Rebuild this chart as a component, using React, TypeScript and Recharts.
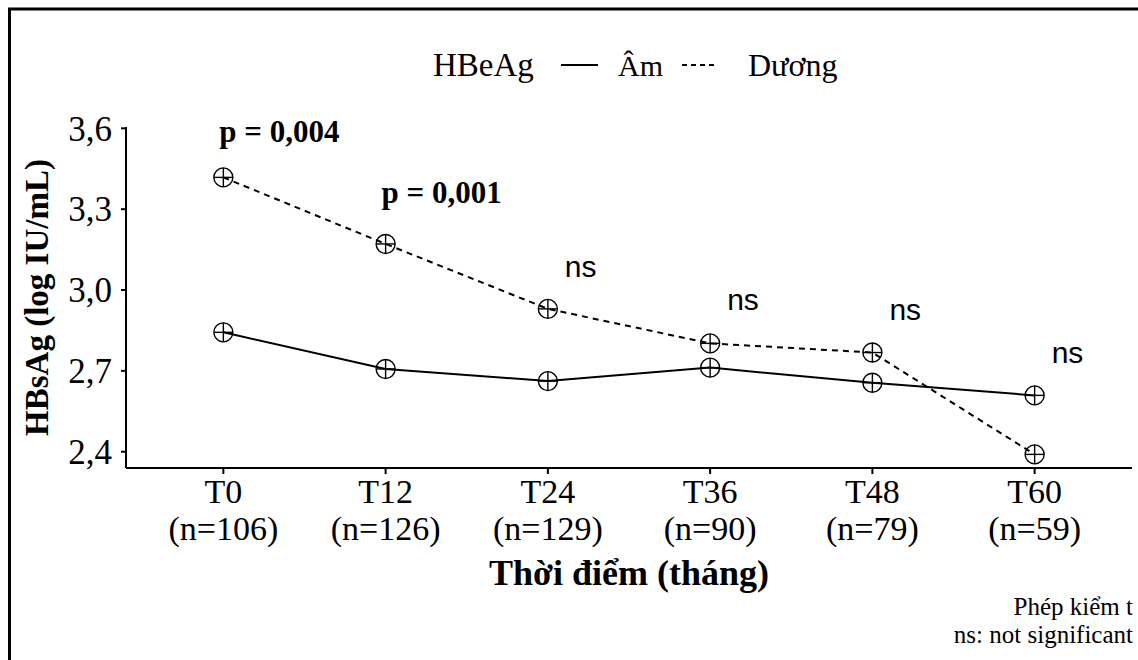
import React from 'react';
import { LineChart, Line, XAxis, YAxis, ReferenceDot } from 'recharts';

// ---- data ----
const timepoints = ['T0', 'T12', 'T24', 'T36', 'T48', 'T60'];
const sampleSizes = [106, 126, 129, 90, 79, 59];
const amValues = [2.843, 2.707, 2.662, 2.712, 2.656, 2.609];
const duongValues = [3.418, 3.171, 2.930, 2.802, 2.768, 2.390];
const yTicks = [2.4, 2.7, 3.0, 3.3, 3.6];
const yTickLabels = ['2,4', '2,7', '3,0', '3,3', '3,6'];
const annotationLabels = ['p = 0,004', 'p = 0,001', 'ns', 'ns', 'ns', 'ns'];
const annotationY = [3.549, 3.323, 3.048, 2.926, 2.889, 2.731];
const legendTitle = 'HBeAg';
const seriesNames = ['Âm', 'Dương'];
const yTitle = 'HBsAg (log IU/mL)';
const xTitle = 'Thời điểm (tháng)';
const footnotes = ['Phép kiểm t', 'ns: not significant'];

const data = timepoints.map((t, i) => ({ idx: i, am: amValues[i], duong: duongValues[i] }));

const SERIF = "'Liberation Serif', 'Times New Roman', Times, serif";
const SANS = "'Liberation Sans', Arial, sans-serif";

const CrossCircle = (props: any) => {
  const { cx, cy, index } = props;
  if (cx == null || cy == null) return null;
  const r = 9.5;
  return (
    <g key={'m' + index}>
      <circle cx={cx} cy={cy} r={r} fill="none" stroke="#000" strokeWidth={1.4} />
      <line x1={cx - r} x2={cx + r} y1={cy} y2={cy} stroke="#000" strokeWidth={1.4} />
      <line x1={cx} x2={cx} y1={cy - r} y2={cy + r} stroke="#000" strokeWidth={1.4} />
    </g>
  );
};

const XTick = (props: any) => {
  const { x, y, payload } = props;
  const i = payload.value as number;
  return (
    <text x={x} y={y} textAnchor="middle" fontFamily={SERIF} fontSize={34} fill="#000">
      <tspan x={x} dy={29}>{timepoints[i]}</tspan>
      <tspan x={x} dy={37}>{`(n=${sampleSizes[i]})`}</tspan>
    </text>
  );
};

const YTick = (props: any) => {
  const { x, y, payload } = props;
  const k = yTicks.indexOf(payload.value);
  return (
    <text x={x - 9} y={y} dy="0.35em" textAnchor="end" fontFamily={SERIF} fontSize={35} fill="#000">
      {k >= 0 ? yTickLabels[k] : payload.value}
    </text>
  );
};

const AnnotationShape = (label: string) => (props: any) => {
  const { cx, cy } = props;
  const isP = label.startsWith('p');
  return (
    <text
      x={cx + (isP ? -4 : 17)}
      y={cy}
      textAnchor="start"
      fontFamily={isP ? SERIF : SANS}
      fontWeight={isP ? 'bold' : 'normal'}
      fontSize={isP ? 31 : 30}
      fill="#000"
    >
      {label}
    </text>
  );
};

export default function App() {
  return (
    <div style={{ position: 'absolute', left: 0, top: 0, width: 1138, height: 660, overflow: 'hidden', background: '#fff' }}>
      <div style={{ position: 'absolute', left: 0, top: 0 }}>
        <LineChart width={1138} height={660} data={data} margin={{ top: 127, right: 6, bottom: 0, left: 0 }}>
          <XAxis
            dataKey="idx"
            type="number"
            domain={[-0.6, 5.6]}
            ticks={[0, 1, 2, 3, 4, 5]}
            interval={0}
            height={192}
            tickSize={6}
            tickMargin={0}
            axisLine={{ stroke: '#000', strokeWidth: 2 }}
            tickLine={{ stroke: '#000', strokeWidth: 2 }}
            tick={<XTick />}
          />
          <YAxis
            type="number"
            domain={[2.3395, 3.605]}
            ticks={yTicks}
            allowDataOverflow
            width={126}
            tickSize={5}
            tickMargin={0}
            axisLine={{ stroke: '#000', strokeWidth: 2 }}
            tickLine={{ stroke: '#000', strokeWidth: 2 }}
            tick={<YTick />}
          />
          <Line
            dataKey="am"
            name={seriesNames[0]}
            stroke="#000"
            strokeWidth={2}
            dot={CrossCircle}
            activeDot={false}
            isAnimationActive={false}
          />
          <Line
            dataKey="duong"
            name={seriesNames[1]}
            stroke="#000"
            strokeWidth={2}
            strokeDasharray="6 5"
            dot={CrossCircle}
            activeDot={false}
            isAnimationActive={false}
          />
          {annotationLabels.map((lab, i) => (
            <ReferenceDot
              key={'a' + i}
              x={i}
              y={annotationY[i]}
              r={1}
              ifOverflow="visible"
              shape={AnnotationShape(lab)}
            />
          ))}
        </LineChart>
      </div>
      <svg width={1138} height={660} style={{ position: 'absolute', left: 0, top: 0, pointerEvents: 'none' }}>
        {/* frame */}
        <line x1={8} x2={1138} y1={9} y2={9} stroke="#000" strokeWidth={3} />
        <line x1={9.5} x2={9.5} y1={8} y2={660} stroke="#000" strokeWidth={3} />
        {/* legend */}
        <text x={433} y={76} fontFamily={SERIF} fontSize={33} fill="#000">{legendTitle}</text>
        <line x1={561} x2={598} y1={65} y2={65} stroke="#000" strokeWidth={2} />
        <text x={618} y={76} fontFamily={SERIF} fontSize={30} fill="#000">{seriesNames[0]}</text>
        <line x1={682} x2={718} y1={65} y2={65} stroke="#000" strokeWidth={2} strokeDasharray="5 4" />
        <text x={748} y={76} fontFamily={SERIF} fontSize={32} fill="#000">{seriesNames[1]}</text>
        {/* axis titles */}
        <text
          transform="translate(48,297.5) rotate(-90)"
          textAnchor="middle"
          fontFamily={SERIF}
          fontWeight="bold"
          fontSize={33}
          fill="#000"
        >
          {yTitle}
        </text>
        <text x={629} y={585} textAnchor="middle" fontFamily={SERIF} fontWeight="bold" fontSize={36} fill="#000">
          {xTitle}
        </text>
        {/* footnotes */}
        <text x={1133} y={615} textAnchor="end" fontFamily={SERIF} fontSize={25} fill="#000">{footnotes[0]}</text>
        <text x={1133} y={643} textAnchor="end" fontFamily={SERIF} fontSize={25} fill="#000">{footnotes[1]}</text>
      </svg>
    </div>
  );
}
